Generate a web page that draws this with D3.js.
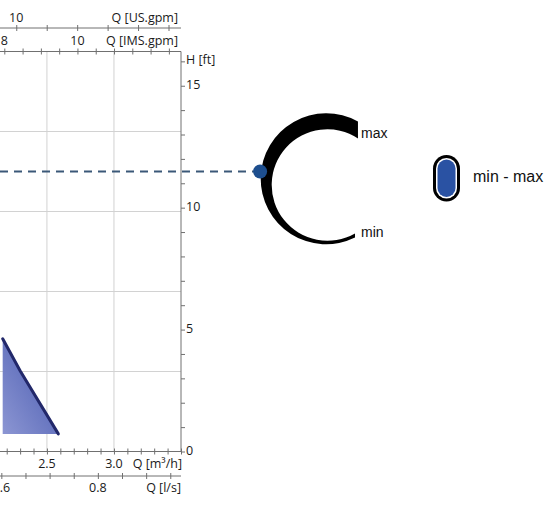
<!DOCTYPE html>
<html>
<head>
<meta charset="utf-8">
<script src="https://cdn.jsdelivr.net/npm/d3@7"></script>
<style>
  html, body { margin: 0; padding: 0; background: #fff; }
  svg { display: block; }
  .tick-label { font-family: "Open Sans", "DejaVu Sans", sans-serif; font-size: 12.5px; fill: #1a1a1a; }
  .leg { font-family: "Liberation Sans", Arial, sans-serif; fill: #111; }
</style>
</head>
<body>
<svg id="chart" width="555" height="514"></svg>
<script>
// ---------------- data ----------------
// pump curve (flow in m³/h, head in m)
const curveQ = [2.17, 2.30, 2.585];
const curveH = [1.41, 1.01, 0.22];
const curveFloorH = 0.22;
// duty head (m) marked by the dashed line
const dutyH = 3.5;

// axis domains
const qDomain = [2.15, 3.5];      // m³/h
const hDomain = [0, 5];           // m

// tick labels
const m3hLabels = [2.5, 3.0];
const lsLabels = [0.6, 0.8];
const usGpmLabels = [10];
const imsGpmLabels = [8, 10];
const ftLabels = [0, 5, 10, 15];
const gridQ = [2.5, 3.0];
const gridH = [1, 2, 3, 4];

// axis titles
const titles = { m3h: "Q [m³/h]", ls: "Q [l/s]", us: "Q [US.gpm]", ims: "Q [IMS.gpm]", ft: "H [ft]" };
const speedLabels = { max: "max", min: "min", legend: "min - max" };

// unit conversions
const M3H_PER_LS = 3.6, M3H_PER_USGPM = 0.2271247, M3H_PER_IMSGPM = 0.2727655, FT_PER_M = 3.28084;

// ---------------- layout ----------------
const svg = d3.select("#chart");
const L = 0, R = 181, T = 51.5, B = 451.5;
const x = d3.scaleLinear().domain(qDomain).range([L, R]);
const xLs = d3.scaleLinear().domain(qDomain.map(d => d / M3H_PER_LS)).range([L, R]);
const xUs = d3.scaleLinear().domain(qDomain.map(d => d / M3H_PER_USGPM)).range([L, R]);
const xIms = d3.scaleLinear().domain(qDomain.map(d => d / M3H_PER_IMSGPM)).range([L, R]);
const y = d3.scaleLinear().domain(hDomain).range([B, T]);
const yFt = d3.scaleLinear().domain(hDomain.map(d => d * FT_PER_M)).range([B, T]);

const axisColor = "#707070";
const gridColor = "#d2d2d2";

// gridlines
svg.append("g").selectAll("line").data(gridQ).join("line")
  .attr("x1", d => x(d)).attr("x2", d => x(d)).attr("y1", T).attr("y2", B)
  .attr("stroke", gridColor).attr("stroke-width", 1);
svg.append("g").selectAll("line").data(gridH).join("line")
  .attr("x1", L).attr("x2", R).attr("y1", d => y(d)).attr("y2", d => y(d))
  .attr("stroke", gridColor).attr("stroke-width", 1);

// pump curve area with gradient
const defs = svg.append("defs");
const grad = defs.append("linearGradient").attr("id", "fillGrad")
  .attr("x1", "100%").attr("y1", "0%").attr("x2", "0%").attr("y2", "100%");
grad.append("stop").attr("offset", "0%").attr("stop-color", "#4456ad");
grad.append("stop").attr("offset", "100%").attr("stop-color", "#8c96d3");

const pts = curveQ.map((q, i) => [q, curveH[i]]);
const area = d3.area().x(d => x(d[0])).y0(y(curveFloorH)).y1(d => y(d[1]));
svg.append("path").datum(pts).attr("d", area).attr("fill", "url(#fillGrad)");
const line = d3.line().x(d => x(d[0])).y(d => y(d[1]));
svg.append("path").datum(pts).attr("d", line)
  .attr("fill", "none").attr("stroke", "#22286a").attr("stroke-width", 3).attr("stroke-linecap", "round");

// horizontal axes (ticks crossing the line)
function hAxis(scale, yPos, tickVals, labels, fmt, labelY, title, titleEnd) {
  const g = svg.append("g");
  g.append("line").attr("x1", L).attr("x2", R).attr("y1", yPos).attr("y2", yPos)
    .attr("stroke", axisColor).attr("stroke-width", 1);
  const ax = d3.axisBottom(scale).tickValues(tickVals).tickSize(6).tickFormat("");
  const tg = g.append("g").attr("transform", `translate(0,${yPos - 3})`).call(ax);
  tg.select(".domain").remove();
  tg.selectAll(".tick line").attr("stroke", axisColor);
  g.selectAll("text.tl").data(labels).join("text").attr("class", "tick-label tl")
    .attr("x", d => scale(d)).attr("y", labelY).attr("text-anchor", "middle").text(fmt);
  g.append("text").attr("class", "tick-label").attr("x", titleEnd).attr("y", labelY)
    .attr("text-anchor", "end").text(title);
}
const rangeTicks = (a, b, s) => d3.range(Math.round(a / s), Math.round(b / s) + 1).map(k => +(k * s).toFixed(4));
hAxis(x, B, rangeTicks(2.2, 3.5, 0.1), m3hLabels, d => d.toFixed(1), 468, titles.m3h, R + 1);
hAxis(xLs, 476, rangeTicks(0.6, 0.95, 0.05), lsLabels, d => d.toFixed(1), 492, titles.ls, R);
hAxis(xUs, 28, rangeTicks(10, 15, 1), usGpmLabels, d => d, 21.5, titles.us, R - 3);
hAxis(xIms, T, rangeTicks(8, 12.5, 0.5), imsGpmLabels, d => d, 45, titles.ims, R - 3);

// right H [ft] axis
const gy = svg.append("g");
gy.append("line").attr("x1", R).attr("x2", R).attr("y1", T).attr("y2", B).attr("stroke", axisColor);
const yAx = d3.axisRight(yFt).tickValues(d3.range(0, 17)).tickSize(4).tickFormat("");
const yg = gy.append("g").attr("transform", `translate(${R},0)`).call(yAx);
yg.select(".domain").remove();
yg.selectAll(".tick line").attr("stroke", axisColor);
gy.selectAll("text.fl").data(ftLabels).join("text").attr("class", "tick-label fl")
  .attr("x", 186).attr("y", d => yFt(d) + 3).text(d => d);
gy.append("text").attr("class", "tick-label").attr("x", 186).attr("y", 64).text(titles.ft);

// speed selector crescent
const cx = 326.2, cy = 178.8, rO = 65.5;
const icx = 327.4, icy = 185, rI = 55.7;
const deg = Math.PI / 180;
const p = d3.path();
const aO0 = 63.9 * deg, aO1 = 299 * deg, aI1 = 303.3 * deg, aI0 = 60.3 * deg;
p.moveTo(cx + rO * Math.cos(aO0), cy + rO * Math.sin(aO0));
p.arc(cx, cy, rO, aO0, aO1, false);
p.lineTo(icx + rI * Math.cos(aI1), icy + rI * Math.sin(aI1));
p.arc(icx, icy, rI, aI1, aI0 + 2 * Math.PI, true);
p.closePath();
svg.append("path").attr("d", p.toString()).attr("fill", "#000");

svg.append("text").attr("class", "leg").attr("x", 361).attr("y", 138).attr("font-size", 14).text(speedLabels.max);
svg.append("text").attr("class", "leg").attr("x", 361).attr("y", 237).attr("font-size", 14).text(speedLabels.min);

// duty line & point
const yd = y(dutyH);
const dotX = cx - Math.sqrt(rO * rO - (yd - cy) * (yd - cy)) - 1;
svg.append("line").attr("x1", L).attr("x2", dotX).attr("y1", yd).attr("y2", yd)
  .attr("stroke", "#3b5878").attr("stroke-width", 2).attr("stroke-dasharray", "8,6");
svg.append("circle").attr("cx", dotX).attr("cy", yd).attr("r", 7).attr("fill", "#1d4e8e");

// legend pill
const lg = svg.append("g");
lg.append("rect").attr("x", 433).attr("y", 155).attr("width", 27).attr("height", 46.5).attr("rx", 13.5).attr("fill", "#000");
lg.append("rect").attr("x", 436).attr("y", 158).attr("width", 21).attr("height", 40.5).attr("rx", 10.5).attr("fill", "#fff");
lg.append("rect").attr("x", 437.5).attr("y", 159.5).attr("width", 18).attr("height", 37.5).attr("rx", 9).attr("fill", "#2a52a3");
lg.append("text").attr("class", "leg").attr("x", 473).attr("y", 182).attr("font-size", 16).text(speedLabels.legend);
</script>
</body>
</html>
